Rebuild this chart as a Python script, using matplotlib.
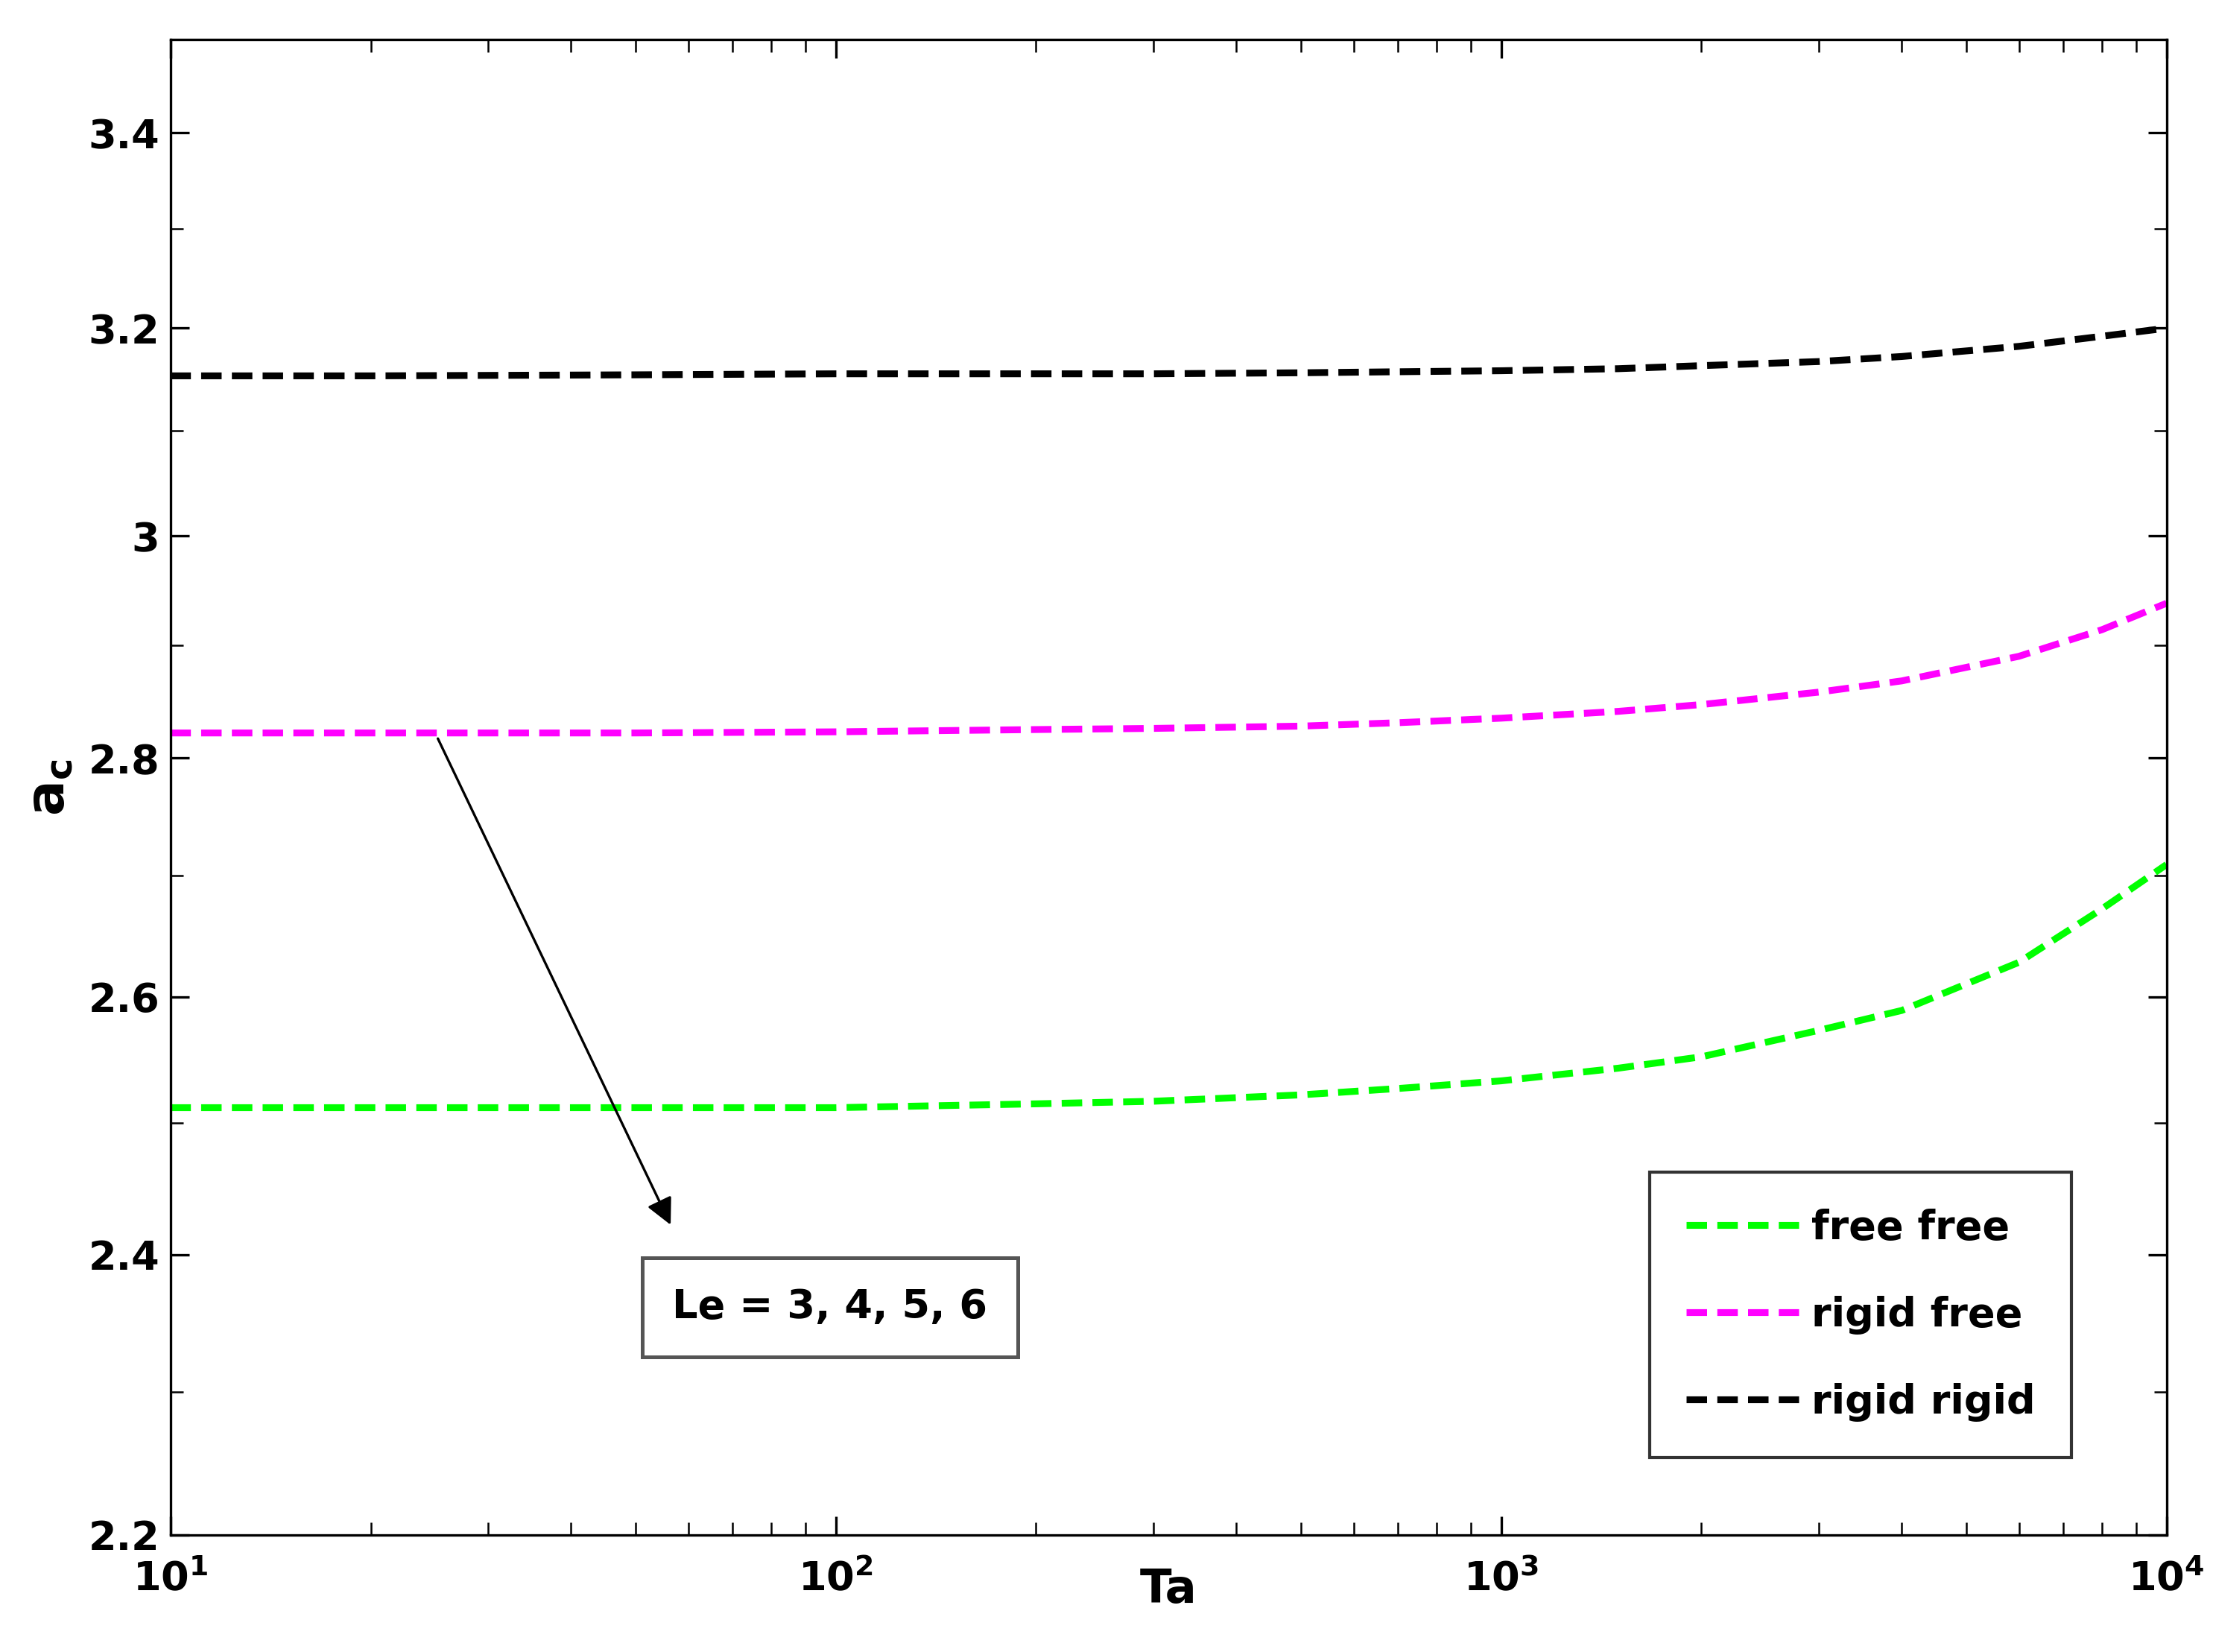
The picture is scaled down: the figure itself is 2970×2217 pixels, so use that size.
import numpy as np
import matplotlib
matplotlib.use("Agg")
import matplotlib.pyplot as plt
from matplotlib.ticker import NullFormatter, FixedLocator

ta = [10, 20, 50, 100, 200, 300, 500, 700, 1000, 1500, 2000, 3000, 4000, 6000, 8000, 10000]
free_free = [2.512, 2.512, 2.512, 2.512, 2.515, 2.517, 2.522, 2.527, 2.533, 2.543, 2.552, 2.573, 2.589, 2.628, 2.672, 2.709]
rigid_free = [2.822, 2.822, 2.822, 2.823, 2.825, 2.826, 2.828, 2.831, 2.835, 2.841, 2.847, 2.858, 2.868, 2.890, 2.914, 2.938]
rigid_rigid = [3.153, 3.153, 3.154, 3.155, 3.155, 3.155, 3.156, 3.157, 3.158, 3.160, 3.163, 3.167, 3.172, 3.182, 3.192, 3.200]

fig = plt.figure(figsize=(9.9, 7.39), dpi=300)
ax = fig.add_axes([0.077, 0.071, 0.902, 0.905])
dash = (0, (3, 1.5))
ax.plot(ta, free_free, color='#00ff00', ls=dash, lw=2.2, label='free free')
ax.plot(ta, rigid_free, color='#ff00ff', ls=dash, lw=2.2, label='rigid free')
ax.plot(ta, rigid_rigid, color='black', ls=dash, lw=2.2, label='rigid rigid')
ax.set_xscale('log')
ax.set_yscale('log')
ax.set_xlim(10, 1e4)
ax.set_ylim(2.2, 3.5)
ax.yaxis.set_major_locator(FixedLocator([2.2, 2.4, 2.6, 2.8, 3.0, 3.2, 3.4]))
ax.yaxis.set_minor_locator(FixedLocator(list(np.arange(2.3, 3.45, 0.2))))
ax.yaxis.set_minor_formatter(NullFormatter())
ax.set_yticklabels(['2.2', '2.4', '2.6', '2.8', '3', '3.2', '3.4'])
ax.tick_params(which='both', direction='in', top=True, right=True, labelsize=13)
ax.tick_params(axis='x', pad=8)
ax.tick_params(which='major', length=6)
ax.tick_params(which='minor', length=4)
for lab in ax.get_xticklabels() + ax.get_yticklabels():
    lab.set_fontweight('bold')
ax.set_xlabel('Ta', fontsize=15, fontweight='bold', labelpad=-10)
ax.set_ylabel(r'$\mathbf{a_c}$', fontsize=17)
leg = ax.legend(loc='lower right', bbox_to_anchor=(0.9625, 0.038), prop={'weight': 'bold', 'size': 13},
                fancybox=False, edgecolor='black', handlelength=2.8, borderpad=0.9, labelspacing=1.2,
                handletextpad=0.3)
ax.annotate('', xy=(57, 2.418), xytext=(25, 2.822),
            arrowprops=dict(arrowstyle='-|>', color='black', lw=0.8, mutation_scale=18))
ax.text(98, 2.361, 'Le = 3, 4, 5, 6', fontsize=13, fontweight='bold', ha='center', va='center',
        bbox=dict(boxstyle='square,pad=0.75', fc='white', ec='#555555', lw=1.2))
fig.savefig('out.png', dpi=300)
